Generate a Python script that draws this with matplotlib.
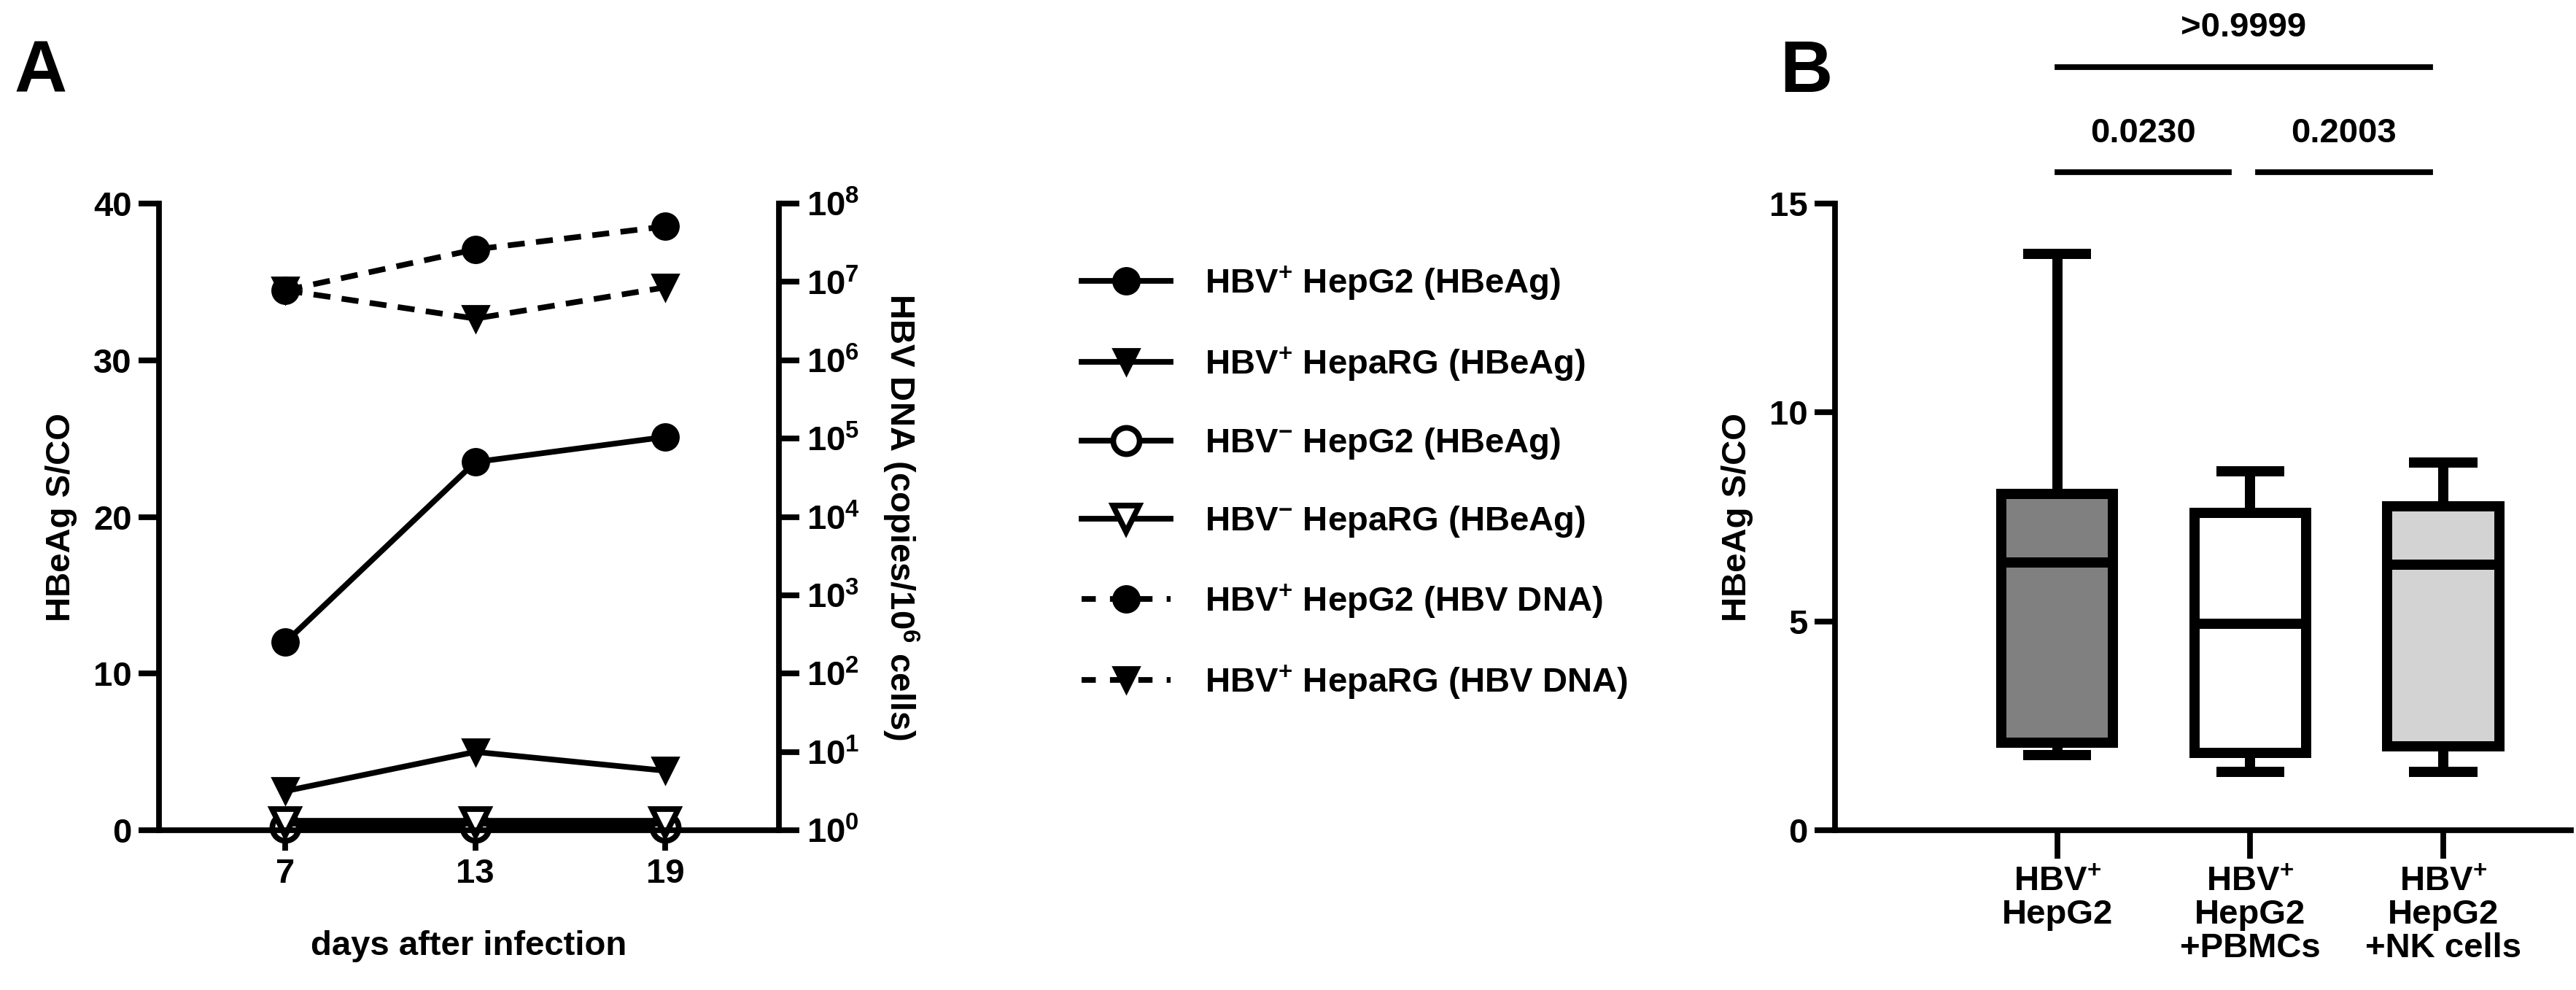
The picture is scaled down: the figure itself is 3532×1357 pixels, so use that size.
import matplotlib
matplotlib.use("Agg")
import matplotlib.pyplot as plt
from matplotlib.lines import Line2D

plt.rcParams['font.family'] = ['Liberation Sans', 'DejaVu Sans']
plt.rcParams['font.weight'] = 'bold'
plt.rcParams['mathtext.fontset'] = 'custom'
plt.rcParams['mathtext.rm'] = 'Liberation Sans:bold'
plt.rcParams['mathtext.bf'] = 'Liberation Sans:bold'
plt.rcParams['mathtext.default'] = 'bf'

# ---- data panel A
days = [7, 13, 19]
hepg2_pos_hbeag = [12.0, 23.5, 25.1]
heparg_pos_hbeag = [2.5, 5.0, 3.8]
hepg2_neg_hbeag = [0.2, 0.2, 0.2]
heparg_neg_hbeag = [0.5, 0.5, 0.5]
hepg2_pos_dna = [7.8e6, 2.6e7, 5.1e7]
heparg_pos_dna = [7.8e6, 3.4e6, 8.5e6]
legend_labels = ['HBV$^{+}$ HepG2 (HBeAg)', 'HBV$^{+}$ HepaRG (HBeAg)',
                 'HBV$^{-}$ HepG2 (HBeAg)', 'HBV$^{-}$ HepaRG (HBeAg)',
                 'HBV$^{+}$ HepG2 (HBV DNA)', 'HBV$^{+}$ HepaRG (HBV DNA)']

# ---- data panel B
groups = ['HBV$^{+}$\nHepG2', 'HBV$^{+}$\nHepG2\n+PBMCs', 'HBV$^{+}$\nHepG2\n+NK cells']
whislo = [1.8, 1.4, 1.4]
q1 = [2.1, 1.85, 2.0]
med = [6.4, 4.95, 6.35]
q3 = [8.05, 7.6, 7.75]
whishi = [13.8, 8.6, 8.8]
box_colors = ['#808080', '#ffffff', '#d3d3d3']
sig_pairs = [(0, 0.89, 15.75, '0.0230'), (1.04, 1.93, 15.75, '0.2003'), (0, 1.93, 18.27, '>0.9999')]

W, H = 3532, 1357
fig = plt.figure(figsize=(W/200, H/200), dpi=200)
LW = 2.8
FS = 17

def style(ax):
    ax.tick_params(width=LW, length=10, labelsize=FS, direction='out')
    for s in ax.spines.values():
        s.set_linewidth(LW)

# Panel A
axA = fig.add_axes([218/W, 1-1138/H, (1068-218)/W, (1138-279)/H])
axB2 = axA.twinx()
ms = 13
axA.plot(days, hepg2_pos_hbeag, '-o', color='k', lw=LW, ms=ms, clip_on=False)
axA.plot(days, heparg_pos_hbeag, '-v', color='k', lw=LW, ms=ms, clip_on=False)
axA.plot(days, hepg2_neg_hbeag, '-o', color='k', mfc='white', mew=LW, lw=LW*1.5, ms=ms, clip_on=False)
axA.plot(days, heparg_neg_hbeag, '-v', color='k', mfc='white', mew=LW, lw=LW*1.5, ms=ms, clip_on=False)
axB2.plot(days, hepg2_pos_dna, '--o', color='k', lw=LW, ms=ms, dashes=(3, 2))
axB2.plot(days, heparg_pos_dna, '--v', color='k', lw=LW, ms=ms, dashes=(3, 2))
axA.set_xlim(3, 22.6)
axA.set_ylim(0, 40)
axA.set_yticks([0, 10, 20, 30, 40])
axA.set_xticks(days)
axB2.set_yscale('log')
axB2.set_ylim(1, 1e8)
axB2.set_yticks([10**i for i in range(9)])
axB2.set_yticklabels(['10$^{%d}$' % i for i in range(9)])
axB2.minorticks_off()
for ax in (axA, axB2):
    style(ax)
    ax.spines['top'].set_visible(False)
axA.spines['right'].set_visible(False)
axB2.spines['bottom'].set_visible(False)
axB2.spines['left'].set_visible(False)
axA.set_ylabel('HBeAg S/CO', fontsize=FS, fontweight='bold', labelpad=8)
axB2.set_ylabel('HBV DNA (copies/10$^{6}$ cells)', fontsize=FS, fontweight='bold', rotation=270, labelpad=30)
axA.set_xlabel('days after infection', fontsize=FS, fontweight='bold', labelpad=20)
fig.text(20/W, 1-100/H, 'A', fontsize=36, fontweight='bold', va='center')

handles = [Line2D([], [], color='k', marker='o', lw=LW, ms=ms),
           Line2D([], [], color='k', marker='v', lw=LW, ms=ms),
           Line2D([], [], color='k', marker='o', mfc='white', mew=LW, lw=LW, ms=ms),
           Line2D([], [], color='k', marker='v', mfc='white', mew=LW, lw=LW, ms=ms),
           Line2D([], [], color='k', marker='o', ls='--', dashes=(2.5, 2.5), lw=LW, ms=ms),
           Line2D([], [], color='k', marker='v', ls='--', dashes=(2.5, 2.5), lw=LW, ms=ms)]
fig.legend(handles, legend_labels, loc='upper left', bbox_to_anchor=(1440/W, 1-320/H),
           frameon=False, handlelength=2.6, labelspacing=1.25, handletextpad=1.0,
           prop={'weight': 'bold', 'size': FS})

# Panel B
axB = fig.add_axes([2516/W, 1-1138/H, (3525-2516)/W, (1138-279)/H])
bxp_stats = [dict(whislo=whislo[i], q1=q1[i], med=med[i], q3=q3[i], whishi=whishi[i], label=groups[i])
             for i in range(3)]
BL = LW*1.8
bp = axB.bxp(bxp_stats, positions=[0, 1, 2], widths=0.58, showfliers=False, patch_artist=True,
             boxprops=dict(linewidth=BL), medianprops=dict(color='k', linewidth=BL),
             whiskerprops=dict(linewidth=BL), capprops=dict(linewidth=BL),
             capwidths=0.3)
for p, c in zip(bp['boxes'], box_colors):
    p.set_facecolor(c)
    p.set_edgecolor('k')
axB.set_xlim(-1.15, 2.66)
axB.set_ylim(0, 15)
axB.set_yticks([0, 5, 10, 15])
style(axB)
axB.spines['top'].set_visible(False)
axB.spines['right'].set_visible(False)
axB.tick_params(axis='x', length=14)
axB.set_xticklabels(groups, fontsize=FS, fontweight='bold', linespacing=1.05)
axB.set_ylabel('HBeAg S/CO', fontsize=FS, fontweight='bold', labelpad=8)
for x0, x1, y, t in sig_pairs:
    axB.plot([x0, x1], [y, y], color='k', lw=LW, clip_on=False)
    axB.text((x0+x1)/2, y+0.55, t, ha='center', va='bottom', fontsize=FS, fontweight='bold')
fig.text(2440/W, 1-100/H, 'B', fontsize=36, fontweight='bold', va='center')

fig.savefig('out.png', dpi=200)
